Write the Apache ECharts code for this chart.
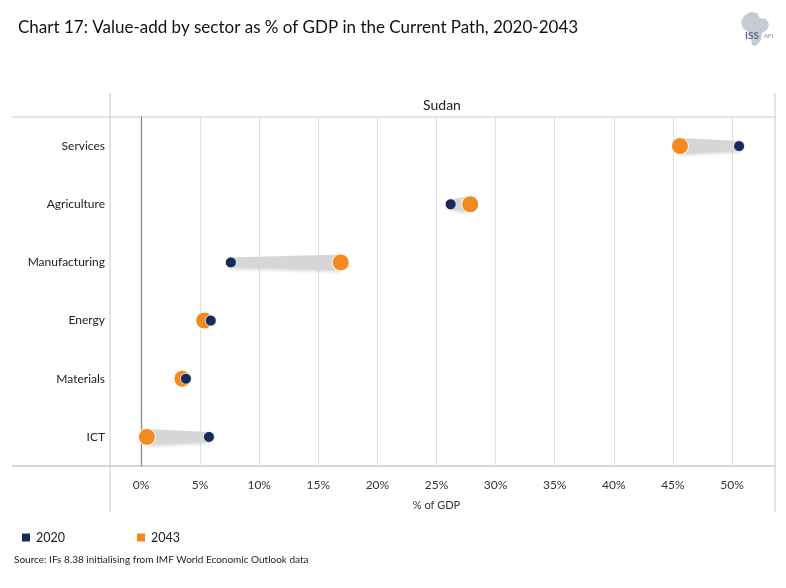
<!DOCTYPE html>
<html>
<head>
<meta charset="utf-8">
<script src="https://cdn.jsdelivr.net/npm/echarts@6/dist/echarts.min.js"></script>
<style>
  html, body { margin: 0; padding: 0; background: #fff; }
  #chart { width: 786px; height: 588px; }
</style>
</head>
<body>
<div id="chart"></div>
<script>
// values, % of GDP
var sectors = ['Services', 'Agriculture', 'Manufacturing', 'Energy', 'Materials', 'ICT'];
var v2020 = [50.6, 26.2, 7.6, 5.9, 3.8, 5.75];
var v2043 = [45.6, 27.85, 16.9, 5.35, 3.5, 0.5];
var seriesNames = ['2020', '2043'];

var navy = '#172a5a';
var orange = '#f28a1f';
var frame = '#c8c8c8';
var font = 'Lato';

var myChart = echarts.init(document.getElementById('chart'));

var pairs = [];
for (var i = 0; i < sectors.length; i++) {
	pairs.push([i, v2020[i], v2043[i]]);
}

var option = {
	backgroundColor: '#fff',
	textStyle: { fontFamily: font },
	title: {
		text: 'Chart 17: Value-add by sector as % of GDP in the Current Path, 2020-2043',
		left: 13,
		top: 14,
		textStyle: { fontFamily: font, fontSize: 17, fontWeight: 'normal', color: '#111' }
	},
	legend: {
		data: [
			{ name: '2020', itemStyle: { color: navy } },
			{ name: '2043', itemStyle: { color: orange } }
		],
		left: 15,
		top: 526,
		icon: 'rect',
		itemWidth: 10,
		itemHeight: 10,
		itemGap: 70,
		textStyle: { fontFamily: font, fontSize: 12.5, color: '#222' }
	},
	grid: { left: 141, right: 54, top: 117, bottom: 122 },
	xAxis: {
		type: 'value',
		min: 0,
		max: 50,
		interval: 5,
		name: '% of GDP',
		nameLocation: 'middle',
		nameGap: 34,
		nameTextStyle: { fontFamily: font, fontSize: 11, color: '#333' },
		axisLine: { show: false },
		axisTick: { show: false },
		axisLabel: { formatter: '{value}%', fontSize: 12, color: '#333', margin: 13 },
		splitLine: { show: true, lineStyle: { color: '#e0e0e0', width: 1 } }
	},
	yAxis: {
		type: 'category',
		data: sectors,
		inverse: true,
		axisLine: { show: true, onZero: false, lineStyle: { color: '#8c8c8c', width: 1.3 } },
		axisTick: { show: false },
		axisLabel: { fontSize: 12, color: '#222', margin: 36 },
		splitLine: { show: false }
	},
	series: [
		{
			name: 'link',
			type: 'custom',
			silent: true,
			clip: false,
			z: 1,
			renderItem: function (params, api) {
				var a = api.coord([api.value(1), api.value(0)]);
				var b = api.coord([api.value(2), api.value(0)]);
				return {
					type: 'polygon',
					shape: {
						points: [
							[a[0], a[1] - 5], [b[0], b[1] - 8],
							[b[0], b[1] + 8], [a[0], a[1] + 5]
						]
					},
					style: {
						fill: '#d6d6d6',
						shadowColor: 'rgba(0,0,0,0.12)',
						shadowBlur: 3,
						shadowOffsetY: 2
					}
				};
			},
			data: pairs
		},
		{
			name: seriesNames[1],
			type: 'scatter',
			clip: false,
			z: 2,
			symbolSize: 17,
			itemStyle: { color: orange, opacity: 1, borderColor: '#fff', borderWidth: 1 },
			data: v2043.map(function (v, i) { return [v, i]; })
		},
		{
			name: seriesNames[0],
			type: 'scatter',
			clip: false,
			z: 3,
			symbolSize: 11,
			itemStyle: { color: navy, opacity: 1, borderColor: '#fff', borderWidth: 0.8 },
			data: v2020.map(function (v, i) { return [v, i]; })
		}
	],
	graphic: [
		// panel frame
		{ type: 'line', shape: { x1: 12, y1: 117, x2: 775, y2: 117 }, style: { stroke: frame, lineWidth: 1 } },
		{ type: 'line', shape: { x1: 12, y1: 466, x2: 775, y2: 466 }, style: { stroke: frame, lineWidth: 1.5 } },
		{ type: 'line', shape: { x1: 110, y1: 93, x2: 110, y2: 512 }, style: { stroke: frame, lineWidth: 1 } },
		{ type: 'line', shape: { x1: 775, y1: 93, x2: 775, y2: 512 }, style: { stroke: frame, lineWidth: 1 } },
		{ type: 'text', x: 442, y: 98, style: { text: 'Sudan', font: '14px ' + font, fill: '#222', textAlign: 'center' } },
		// source note
		{ type: 'text', left: 14, top: 555, style: { text: 'Source: IFs 8.38 initialising from IMF World Economic Outlook data', font: '10px ' + font, fill: '#222' } },
		// ISS logo
		{
			type: 'polygon',
			shape: {
				points: [[744, 16], [750, 12], [757, 13], [760, 18], [766, 19], [769, 24], [767, 30], [762, 33], [761, 40], [756, 46], [752, 45], [751, 38], [748, 32], [743, 28], [741, 22]]
			},
			style: { fill: '#c6cad3' }
		},
		{ type: 'text', x: 745, y: 31, style: { text: 'ISS', font: 'bold 10px ' + font, fill: '#5a6a86' } },
		{ type: 'text', x: 764, y: 33, style: { text: 'AFI', font: '6px ' + font, fill: '#7d8aa3' } }
	]
};

myChart.setOption(option);
</script>
</body>
</html>
